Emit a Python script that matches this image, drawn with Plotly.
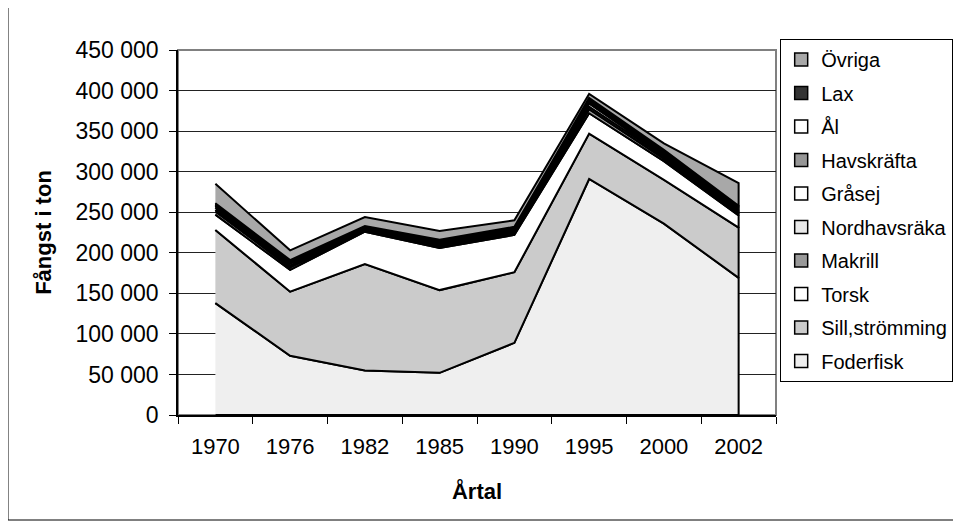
import numpy as np
import plotly.graph_objects as go

years = ['1970', '1976', '1982', '1985', '1990', '1995', '2000', '2002']

foderfisk    = [138000,  73000,  55000,  52000,  89000, 291000, 236000, 169000]
sill         = [ 90000,  79000, 131000, 102000,  87000,  56000,  54000,  62000]
torsk        = [ 19000,  27000,  40000,  52000,  46000,  25000,  23000,  15000]
makrill      = [  4000,   3000,   1500,   2000,   2000,   5000,   3000,   2500]
nordhavsraka = [  2000,   2000,   1500,   2000,   2000,   3000,   3000,   2500]
grasej       = [  3000,   3000,   1000,   2000,   2000,   4000,   2000,   1500]
havskrafta   = [  2000,   1500,   1500,   2000,   2000,   3000,   2500,   2500]
al           = [  1500,   1500,   1000,   1000,   1000,   2000,   1500,   1500]
lax          = [  1500,   1000,    500,   1000,   1000,   2000,   2000,   1500]
ovriga       = [ 24000,  12000,  11000,  11000,   8000,   5000,   8000,  28000]

series_names = ['Foderfisk', 'Sill,strömming', 'Torsk', 'Makrill', 'Nordhavsräka',
                'Gråsej', 'Havskräfta', 'Ål', 'Lax', 'Övriga']
series_values = [foderfisk, sill, torsk, makrill, nordhavsraka,
                 grasej, havskrafta, al, lax, ovriga]
series_colors = ['#efefef', '#cbcbcb', '#ffffff', '#999999', '#e8e8e8',
                 '#ffffff', '#969696', '#ffffff', '#333333', '#a8a8a8']

y_ticks = list(range(0, 450001, 50000))

fig = go.Figure()

bottom = np.zeros(len(years))
for name, vals, col in zip(series_names, series_values, series_colors):
    top = bottom + np.array(vals, dtype=float)
    fig.add_trace(go.Scatter(
        x=years + years[::-1],
        y=list(top) + list(bottom[::-1]),
        mode='lines', fill='toself', fillcolor=col,
        line=dict(color='black', width=2),
        showlegend=False, hoverinfo='skip', name=name))
    bottom = top

# legend entries (square swatches), top of legend = last series
for name, col in list(zip(series_names, series_colors))[::-1]:
    fig.add_trace(go.Scatter(
        x=[None], y=[None], mode='markers', name=name,
        legendgroup=name,
        marker=dict(symbol='square', size=13, color=col,
                    line=dict(color='black', width=1.5))))

FONT = 'Liberation Sans, Arial, sans-serif'

# page body adds an 8px offset; figure is sized/margined to compensate
fig.update_layout(
    width=953, height=519,
    margin=dict(l=170, r=185, t=42, b=112, autoexpand=False),
    paper_bgcolor='white', plot_bgcolor='white',
    font=dict(family=FONT, color='black', size=22),
    separators=', ',
    legend=dict(
        x=1.007, y=1.03, xanchor='left', yanchor='top',
        traceorder='grouped', tracegroupgap=4.5,
        bgcolor='white', bordercolor='black', borderwidth=1,
        font=dict(family=FONT, size=20, color='black'),
        itemwidth=30, maxheight=420,
    ),
    xaxis=dict(
        type='category', categoryorder='array', categoryarray=years,
        range=[-0.5, len(years) - 0.5],
        showline=True, linecolor='black', linewidth=1.5,
        ticks='outside', tickson='boundaries', ticklen=7, tickcolor='black',
        ticklabelstandoff=11,
        showgrid=False, zeroline=False,
        tickfont=dict(family=FONT, size=22),
        title=dict(text='<b>Årtal</b>', font=dict(family=FONT, size=22), standoff=25),
    ),
    yaxis=dict(
        range=[0, 450000], tickvals=y_ticks, tickformat=',d',
        showline=True, linecolor='black', linewidth=1.5,
        ticks='outside', ticklen=7, tickcolor='black',
        ticklabelstandoff=6,
        showgrid=True, gridcolor='#222222', gridwidth=1,
        zeroline=False,
        tickfont=dict(family=FONT, size=23),
        title=dict(text='<b>Fångst i ton</b>', font=dict(family=FONT, size=22), standoff=18),
    ),
    shapes=[
        dict(type='rect', xref='paper', yref='paper', x0=0, x1=1, y0=0, y1=1,
             line=dict(color='#808080', width=2), layer='below'),
        dict(type='rect', xref='paper', yref='paper',
             x0=-0.2843, x1=1.2993, y0=-0.2877, y1=1.1233,
             line=dict(color='black', width=1)),
    ],
)

fig.write_html('out.html')
